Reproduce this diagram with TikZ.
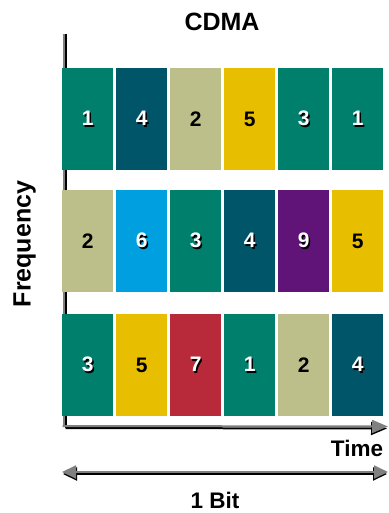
\documentclass[tikz,border=0pt]{standalone}
\usepackage{fontspec}
\setmainfont{Liberation Sans}
\usetikzlibrary{arrows.meta}
\definecolor{cteal}{RGB}{0,128,108}
\definecolor{cdteal}{RGB}{0,85,104}
\definecolor{ckhaki}{RGB}{188,191,138}
\definecolor{cyellow}{RGB}{232,190,0}
\definecolor{ccyan}{RGB}{0,160,224}
\definecolor{cpurple}{RGB}{96,20,120}
\definecolor{cred}{RGB}{184,42,58}
\definecolor{axgray}{RGB}{128,128,128}
\newcommand\dgfont{\fontsize{21}{25}\selectfont\bfseries}
\newcommand\shd[1]{{\dgfont\makebox[0pt][l]{\hspace{1.5pt}\raisebox{-1.5pt}{\color{black}#1}}{\color{white}#1}}}
\newcommand\blk[1]{{\dgfont #1}}
\tikzset{
  chip/.style={fill=#1, draw=none, minimum width=51pt, minimum height=102pt, inner sep=0pt, anchor=north west},
  lbl/.style={font=\fontsize{#1}{#1}\selectfont\bfseries, inner sep=0pt},
  axline/.style={line width=2pt, draw=axgray},
  axshadow/.style={line width=2pt, draw=black},
  tipg/.style={-{Triangle[length=16pt,width=13pt,fill=axgray]}},
  tipb/.style={-{Triangle[length=16pt,width=13pt,fill=black]}},
  dtipg/.style={{Triangle[length=14pt,width=13pt,fill=axgray]}-{Triangle[length=14pt,width=13pt,fill=axgray]}},
  dtipb/.style={{Triangle[length=14pt,width=13pt,fill=black]}-{Triangle[length=14pt,width=13pt,fill=black]}},
}
\begin{document}
\begin{tikzpicture}[x=1pt,y=-1pt]
\useasboundingbox (0,0) rectangle (388,513);
% axes coordinates
\coordinate (ytop) at (63.5,34);
\coordinate (orig) at (63.5,426);
\coordinate (xend) at (388,426.5);
\coordinate (ytops) at (65.5,34);
\coordinate (origs) at (65.5,428);
\coordinate (xends) at (387,428.5);
\coordinate (bl) at (62,472);
\coordinate (br) at (388,472);
\coordinate (bls) at (63,474);
\coordinate (brs) at (387,474);
% shadows
\draw[axshadow] (ytops) -- (origs);
\draw[axshadow,tipb] (origs) -- (xends);
\draw[axshadow,dtipb] (bls) -- (brs);
% axes
\draw[axline] (ytop) -- (orig);
\draw[axline,tipg] ([xshift=-1pt]orig) -- (xend);
\draw[axline,dtipg] (bl) -- (br);
% row 1
\node[chip=cteal]   (a1) at (62,68)  {\shd{1}};
\node[chip=cdteal]  (a2) at (116,68) {\shd{4}};
\node[chip=ckhaki]  (a3) at (170,68) {\blk{2}};
\node[chip=cyellow] (a4) at (224,68) {\blk{5}};
\node[chip=cteal]   (a5) at (278,68) {\shd{3}};
\node[chip=cteal]   (a6) at (332,68) {\shd{1}};
% row 2
\node[chip=ckhaki]  (b1) at (62,190)  {\blk{2}};
\node[chip=ccyan]   (b2) at (116,190) {\shd{6}};
\node[chip=cteal]   (b3) at (170,190) {\shd{3}};
\node[chip=cdteal]  (b4) at (224,190) {\shd{4}};
\node[chip=cpurple] (b5) at (278,190) {\shd{9}};
\node[chip=cyellow] (b6) at (332,190) {\blk{5}};
% row 3
\node[chip=cteal]   (c1) at (62,314)  {\shd{3}};
\node[chip=cyellow] (c2) at (116,314) {\blk{5}};
\node[chip=cred]    (c3) at (170,314) {\shd{7}};
\node[chip=cteal]   (c4) at (224,314) {\shd{1}};
\node[chip=ckhaki]  (c5) at (278,314) {\blk{2}};
\node[chip=cdteal]  (c6) at (332,314) {\shd{4}};
% labels
\node[lbl=25, anchor=base] (title) at (222,30.5) {CDMA};
\node[lbl=25, anchor=base, rotate=90] (freq) at (30.5,244) {Frequency};
\node[lbl=22.5, anchor=base] (time) at (357,456.5) {Time};
\node[lbl=22.5, anchor=base] (bit) at (215,508) {1 Bit};
\end{tikzpicture}
\end{document}
